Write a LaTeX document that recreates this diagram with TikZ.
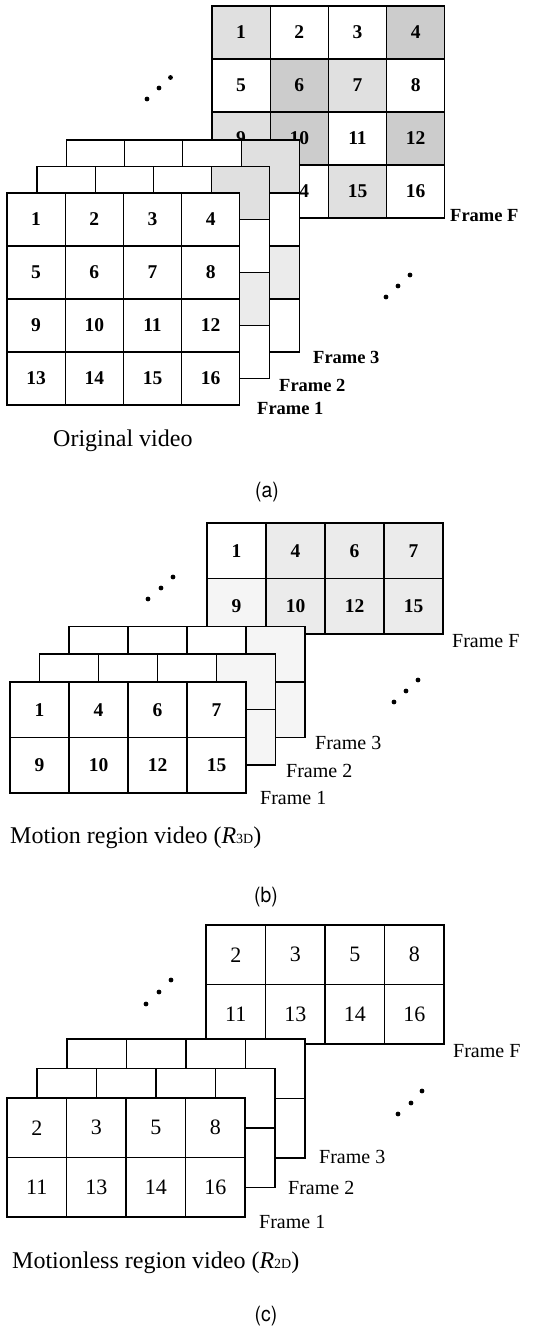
\documentclass[tikz,border=0pt]{standalone}
\usepackage{fontspec}
\setmainfont{Liberation Serif}
\newfontfamily\capsans{TeX Gyre Heros}

% shading levels for motion blocks
\colorlet{shA}{black!20}
\colorlet{shB}{black!12}
\colorlet{shC}{black!8}
\colorlet{shD}{black!4}

\def\cw{58.2}
\def\ch{53}

\tikzset{
  cell/.style={draw=black, line width=1.15pt, inner sep=0pt, outer sep=0pt,
    anchor=north west, minimum width=\cw pt, minimum height=\ch pt},
  numA/.style={font=\fontsize{19.5}{19.5}\selectfont\bfseries},
  numC/.style={font=\fontsize{22}{22}\selectfont},
  flabA/.style={anchor=base west, inner sep=0pt, font=\fontsize{18.5}{18.5}\selectfont\bfseries},
  flab/.style={anchor=base west, inner sep=0pt, font=\fontsize{20}{20}\selectfont},
  caption/.style={anchor=base west, inner sep=0pt, font=\fontsize{24}{24}\selectfont},
  tag/.style={inner sep=0pt, font=\capsans\fontsize{21}{21}\selectfont},
  dot/.style={circle, fill=black, inner sep=0pt, minimum size=4.8pt},
}

% one frame of blocks: #1 name, #2 left, #3 top, #4 list of text/fill, #5 text style
\newcommand\videoframe[5]{%
  \foreach \t/\f [count=\k from 0] in {#4}{%
    \pgfmathtruncatemacro\rr{div(\k,4)}%
    \pgfmathtruncatemacro\cc{mod(\k,4)}%
    \pgfmathtruncatemacro\id{\k+1}%
    \node[cell, fill=\f, #5] (#1-\id) at ({#2+\cc*\cw},{#3+\rr*\ch}) {\t};
  }%
}

\begin{document}
\begin{tikzpicture}[x=1pt, y=-1pt]
\fill[white] (0,0) rectangle (534,1333);
\useasboundingbox (0,0) rectangle (534,1333);

% ---------------- (a) original video ----------------
\def\cw{58.2}\def\ch{53}
\videoframe{aF}{212}{6}{1/shB,2/white,3/white,4/shA,5/white,6/shA,7/shB,8/white,
  9/shB,10/shA,11/white,12/shA,13/white,14/white,15/shB,16/white}{numA}
\videoframe{a3}{66.5}{140}{{}/white,{}/white,{}/white,{}/shB,{}/white,{}/white,{}/white,{}/white,
  {}/white,{}/white,{}/white,{}/shC,{}/white,{}/white,{}/white,{}/white}{numA}
\videoframe{a2}{37}{166.5}{{}/white,{}/white,{}/white,{}/shB,{}/white,{}/white,{}/white,{}/white,
  {}/white,{}/white,{}/white,{}/shC,{}/white,{}/white,{}/white,{}/white}{numA}
\videoframe{a1}{7}{193}{1/white,2/white,3/white,4/white,5/white,6/white,7/white,8/white,
  9/white,10/white,11/white,12/white,13/white,14/white,15/white,16/white}{numA}

\node[dot] (a-u1) at (147,99) {};
\node[dot] (a-u2) at (159,88) {};
\node[dot] (a-u3) at (170.5,77.5) {};
\node[dot] (a-v1) at (386,297) {};
\node[dot] (a-v2) at (398,286) {};
\node[dot] (a-v3) at (410,275) {};

\node[flabA] (a-lF) at (450,221) {Frame F};
\node[flabA] (a-l3) at (313,363) {Frame 3};
\node[flabA] (a-l2) at (279,391) {Frame 2};
\node[flabA] (a-l1) at (257,414) {Frame 1};
\node[caption] (a-cap) at (53,446) {Original video};
\node[tag] (a-tag) at (267,492) {\scalebox{0.92}[1]{(a)}};

% ---------------- (b) motion region video ----------------
\def\cw{59}\def\ch{55.5}
\videoframe{bF}{207}{523}{1/white,4/shC,6/shC,7/shC,9/shD,10/shC,12/shC,15/shC}{numA}
\videoframe{b3}{69}{626.5}{{}/white,{}/white,{}/white,{}/shD,{}/white,{}/white,{}/white,{}/shD}{numA}
\videoframe{b2}{39.5}{654}{{}/white,{}/white,{}/white,{}/shD,{}/white,{}/white,{}/white,{}/shD}{numA}
\videoframe{b1}{10}{682}{1/white,4/white,6/white,7/white,9/white,10/white,12/white,15/white}{numA}

\node[dot] (b-u1) at (148,599) {};
\node[dot] (b-u2) at (161,588) {};
\node[dot] (b-u3) at (173,577) {};
\node[dot] (b-v1) at (394,702) {};
\node[dot] (b-v2) at (406,691) {};
\node[dot] (b-v3) at (418,680) {};

\node[flab] (b-lF) at (452,647) {Frame F};
\node[flab] (b-l3) at (315,749) {Frame 3};
\node[flab] (b-l2) at (286,777) {Frame 2};
\node[flab] (b-l1) at (260,804) {Frame 1};
\node[caption] (b-cap) at (10,843) {Motion region video (\textit{R}{\fontsize{14}{14}\selectfont 3D})};
\node[tag] (b-tag) at (266,897) {\scalebox{0.92}[1]{(b)}};

% ---------------- (c) motionless region video ----------------
\def\cw{59.5}\def\ch{59.5}
\videoframe{cF}{206}{925}{2/white,3/white,5/white,8/white,11/white,13/white,14/white,16/white}{numC}
\videoframe{c3}{67}{1039}{{}/white,{}/white,{}/white,{}/white,{}/white,{}/white,{}/white,{}/white}{numC}
\videoframe{c2}{37}{1068.5}{{}/white,{}/white,{}/white,{}/white,{}/white,{}/white,{}/white,{}/white}{numC}
\videoframe{c1}{7}{1098}{2/white,3/white,5/white,8/white,11/white,13/white,14/white,16/white}{numC}

\node[dot] (c-u1) at (146,1004) {};
\node[dot] (c-u2) at (159,992) {};
\node[dot] (c-u3) at (171,980) {};
\node[dot] (c-v1) at (398,1114) {};
\node[dot] (c-v2) at (411,1103) {};
\node[dot] (c-v3) at (422,1091) {};

\node[flab] (c-lF) at (453,1057) {Frame F};
\node[flab] (c-l3) at (319,1163) {Frame 3};
\node[flab] (c-l2) at (288,1194) {Frame 2};
\node[flab] (c-l1) at (259,1228) {Frame 1};
\node[caption] (c-cap) at (12,1268) {Motionless region video (\textit{R}{\fontsize{14}{14}\selectfont 2D})};
\node[tag] (c-tag) at (266,1316) {\scalebox{0.92}[1]{(c)}};
\end{tikzpicture}
\end{document}
